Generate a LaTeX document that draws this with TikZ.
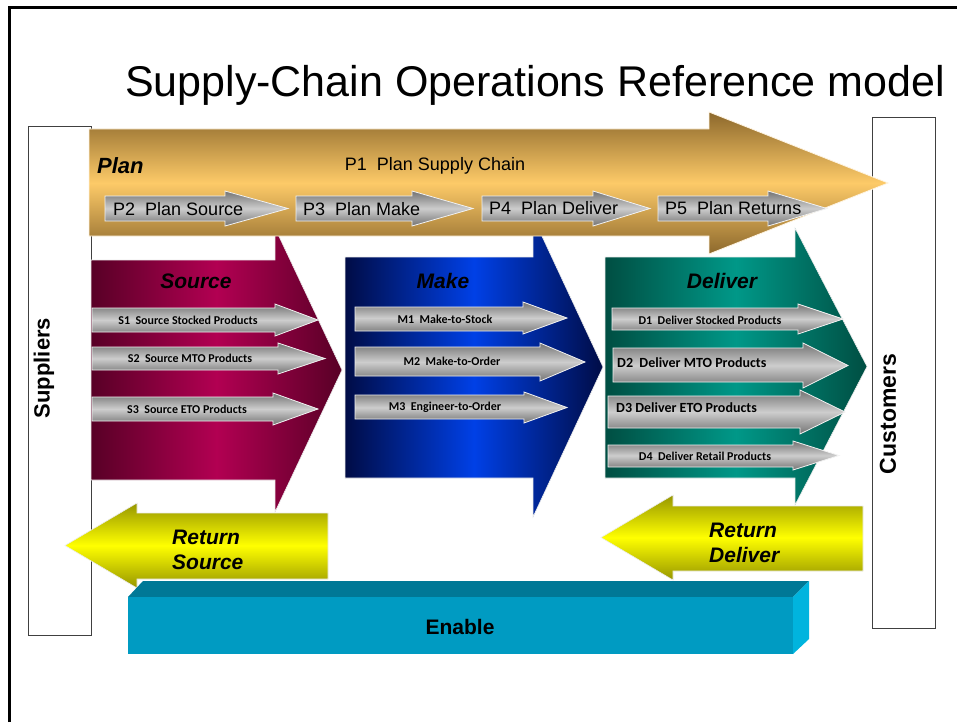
\documentclass[tikz,border=0pt]{standalone}
\usepackage{fontspec}
\setmainfont{Liberation Sans}
\newfontfamily\calfont{Carlito}
\usepackage{tikz}
\usetikzlibrary{shapes.geometric, arrows}
\definecolor{goldDark}{RGB}{140,104,44}
\definecolor{goldLight}{RGB}{253,202,104}
\definecolor{srcDark}{RGB}{88,0,38}
\definecolor{srcLight}{RGB}{178,0,82}
\definecolor{mkDark}{RGB}{0,12,70}
\definecolor{mkLight}{RGB}{0,64,230}
\definecolor{dlDark}{RGB}{0,78,66}
\definecolor{dlLight}{RGB}{0,152,136}
\definecolor{yelDark}{RGB}{150,150,0}
\definecolor{yelLight}{RGB}{255,255,0}
\definecolor{enFront}{RGB}{0,155,194}
\definecolor{enTop}{RGB}{0,120,150}
\definecolor{enSide}{RGB}{0,180,222}
\definecolor{greyDark}{RGB}{115,115,115}
\definecolor{greyLight}{RGB}{205,205,205}
\tikzstyle{planarrow} = [draw=white!80!goldLight, line width=0.8pt, top color=goldDark, bottom color=goldDark, middle color=goldLight]
\tikzstyle{srcarrow} = [draw=white!85!gray, line width=0.6pt, left color=srcDark, right color=srcDark, middle color=srcLight]
\tikzstyle{mkarrow} = [draw=white!85!gray, line width=0.6pt, left color=mkDark, right color=mkDark, middle color=mkLight]
\tikzstyle{dlarrow} = [draw=white!85!gray, line width=0.6pt, left color=dlDark, right color=dlDark, middle color=dlLight]
\tikzstyle{retarrow} = [draw=white!85!gray, line width=0.6pt, top color=yelDark, bottom color=yelDark, middle color=yelLight]
\tikzstyle{subarrow} = [draw=white!90!gray, line width=0.8pt, top color=greyDark, bottom color=greyDark, middle color=greyLight]
\tikzstyle{sidebox} = [draw=black!75, line width=1pt, fill=white]
\tikzstyle{stage} = [font=\fontsize{21}{25}\selectfont\bfseries\itshape, inner sep=0pt]
\tikzstyle{planlabel} = [font=\fontsize{18}{22}\selectfont, inner sep=0pt, anchor=base west]
\tikzstyle{sublabel} = [font=\calfont\fontsize{12}{14}\selectfont\bfseries, inner sep=0pt]
\tikzstyle{biglabel} = [font=\calfont\fontsize{14}{16}\selectfont\bfseries, inner sep=0pt, anchor=west]
% #1 style, #2 tail x, #3 head x, #4 tip x, #5/#6 body top/bottom, #7/#8 head top/bottom
\newcommand{\drawArrowShape}[8]
{
    \path [#1] (#2,#5) -- (#3,#5) -- (#3,#7) -- (#4,{(#7+#8)/2}) -- (#3,#8) -- (#3,#6) -- (#2,#6) -- cycle;
}

\begin{document}
\begin{tikzpicture}[x=1pt, y=-1pt]
\useasboundingbox (0,0) rectangle (957,722);
\draw [line width=2.5pt] (9.5,722) -- (9.5,7.5) -- (957,7.5);

\node (title) [font=\fontsize{43}{49}\selectfont, inner sep=0pt, anchor=base] at (535,97) {Supply-Chain Operations Reference model};

\draw [sidebox] (28,127) rectangle (91,635);
\draw [sidebox] (872,118) rectangle (935,628);
\node (suppliers) [font=\fontsize{22}{26}\selectfont\bfseries, rotate=90, inner sep=0pt] at (44,368) {Suppliers};
\node (customers) [font=\fontsize{23}{27}\selectfont\bfseries, rotate=90, inner sep=0pt] at (888,414) {Customers};

% process stages
\drawArrowShape{srcarrow}{91}{275}{342}{260}{480}{228}{512}
\drawArrowShape{mkarrow}{345}{533}{603}{257}{478}{217}{517}
\drawArrowShape{dlarrow}{605}{795}{867}{257}{478}{228}{505}

% plan
\drawArrowShape{planarrow}{89}{709}{888}{129}{236}{112}{254}
\node (plan) [stage, font=\fontsize{22}{26}\selectfont\bfseries\itshape, anchor=base west] at (97,173) {Plan};
\node (p1) [font=\fontsize{18}{22}\selectfont, inner sep=0pt, anchor=base] at (435,171) {P1\ \ Plan Supply Chain};

\drawArrowShape{subarrow}{105}{225}{288}{196}{221}{191}{226}
\drawArrowShape{subarrow}{296}{412}{473}{196}{221}{191}{226}
\drawArrowShape{subarrow}{482}{593}{650}{196}{221}{191}{226}
\drawArrowShape{subarrow}{658}{768}{827}{196}{221}{191}{226}
\node (p2) [planlabel] at (113,215) {P2\ \ Plan Source};
\node (p3) [planlabel] at (303,215) {P3\ \ Plan Make};
\node (p4) [planlabel] at (489,214) {P4\ \ Plan Deliver};
\node (p5) [planlabel] at (665,214) {P5\ \ Plan Returns};

% source
\node (source) [stage, anchor=base] at (196,288) {Source};
\drawArrowShape{subarrow}{92}{275}{318}{308}{332}{304}{336}
\drawArrowShape{subarrow}{92}{278}{325}{347}{370}{343}{374}
\drawArrowShape{subarrow}{92}{273}{318}{397}{421}{393}{425}
\node (s1) [sublabel] at (188,320) {S1\ \ Source Stocked Products};
\node (s2) [sublabel] at (190,358) {S2\ \ Source MTO Products};
\node (s3) [sublabel] at (187,409) {S3\ \ Source ETO Products};

% make
\node (make) [stage, anchor=base] at (443,288) {Make};
\drawArrowShape{subarrow}{355}{523}{567}{307}{331}{302}{334}
\drawArrowShape{subarrow}{355}{540}{585}{347}{376}{343}{381}
\drawArrowShape{subarrow}{355}{524}{567}{395}{419}{392}{423}
\node (m1) [sublabel] at (445,319) {M1\ \ Make-to-Stock};
\node (m2) [sublabel] at (452,361) {M2\ \ Make-to-Order};
\node (m3) [sublabel] at (445,407) {M3\ \ Engineer-to-Order};

% deliver
\node (deliver) [stage, anchor=base] at (722,288) {Deliver};
\drawArrowShape{subarrow}{612}{798}{843}{308}{330}{304}{334}
\drawArrowShape{subarrow}{613}{803}{848}{348}{382}{343}{388}
\drawArrowShape{subarrow}{608}{800}{845}{396}{428}{390}{434}
\drawArrowShape{subarrow}{608}{793}{839}{445}{467}{441}{470}
\node (d1) [sublabel] at (710,320) {D1\ \ Deliver Stocked Products};
\node (d2) [biglabel] at (617,363) {D2\ \ Deliver MTO Products};
\node (d3) [biglabel] at (616,408) {D3 Deliver ETO Products};
\node (d4) [sublabel] at (705,456) {D4\ \ Deliver Retail Products};

% returns
\drawArrowShape{retarrow}{328}{137}{65}{513}{579}{503}{588}
\drawArrowShape{retarrow}{863}{673}{601}{506}{571}{495}{580}
\node (retsource) [stage, align=left, anchor=west] at (172,550) {Return\\Source};
\node (retdeliver) [stage, align=left, anchor=west] at (709,543) {Return\\Deliver};

% enable
\fill [enTop] (128,597) -- (143,581) -- (809,581) -- (793,597) -- cycle;
\fill [enSide] (793,597) -- (809,581) -- (809,639) -- (793,654) -- cycle;
\fill [enFront] (128,597) rectangle (793,654);
\node (enable) [font=\fontsize{21}{25}\selectfont\bfseries, inner sep=0pt] at (460,627) {Enable};

\end{tikzpicture}
\end{document}
